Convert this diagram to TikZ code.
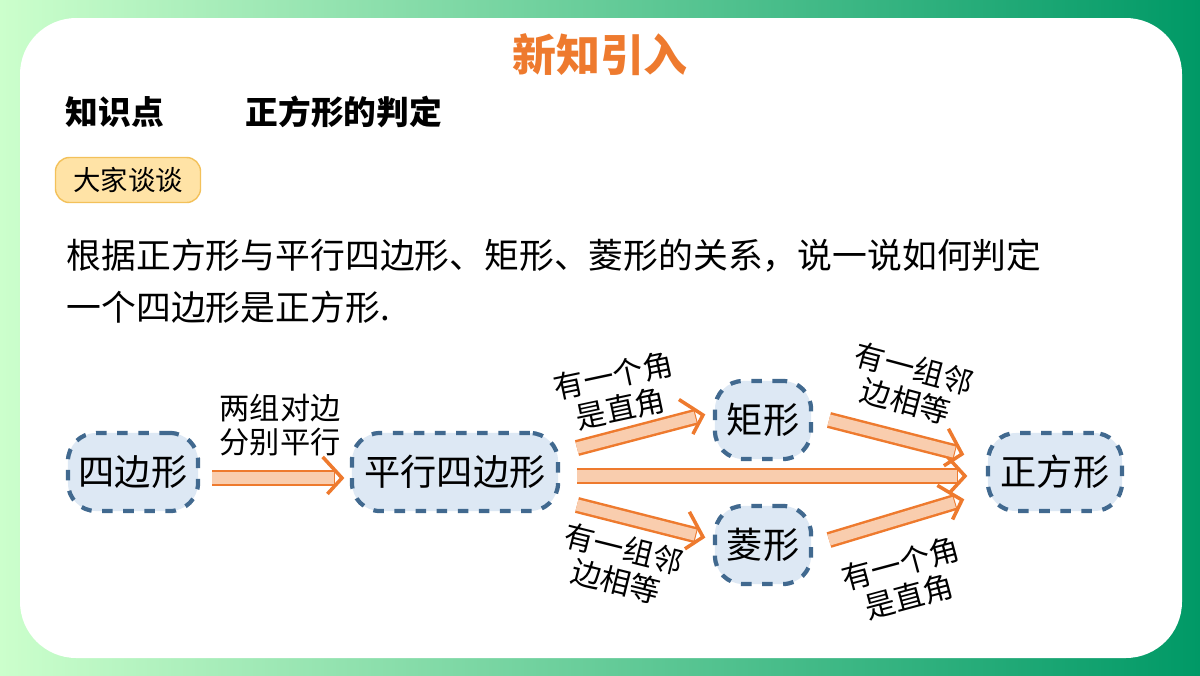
\documentclass[tikz,border=0pt]{standalone}
\usepackage{fontspec}
\setmainfont{Noto Sans CJK SC}
\usetikzlibrary{decorations.markings}
\definecolor{boxFill}{HTML}{DDE8F4}
\definecolor{boxLine}{HTML}{41698F}
\definecolor{arrLine}{HTML}{EE7A2E}
\definecolor{arrFill}{HTML}{F9CDAE}
\definecolor{tagFill}{HTML}{FFE3A6}
\definecolor{tagLine}{HTML}{F3C15A}
\begin{document}
\begin{tikzpicture}[
  x=0.01cm, y=-0.01cm,
  every node/.style={align=center,inner sep=0pt},
  figBox/.style={draw=boxLine,dashed,line width=1.2pt,fill=boxFill,rounded corners=8pt,
    minimum height=0.78cm,font=\fontsize{10.3}{11}\selectfont},
  cond/.style={font=\fontsize{8.6}{9.6}\selectfont},
  blockArrow/.style={draw=arrLine,line width=4.6pt,shorten >=2pt,
    postaction={draw=arrFill,line width=3.2pt,shorten >=2.3pt},
    postaction={decorate,decoration={markings,mark=at position 1 with
      {\draw[arrLine,line width=1pt,line join=miter] (-5.5pt,6pt) -- (0,0) -- (-5.5pt,-6pt);}}}}]
  % frame
  \shade[left color=green!20, right color=teal!80!green] (0,0) rectangle (1200,675);
  \fill[white,rounded corners=16pt] (20,18) rectangle (1182,658);
  \useasboundingbox (0,0) rectangle (1200,675);

  % heading
  \node[text=arrLine,font=\fontsize{12.5}{13}\selectfont\bfseries] (title) at (600,55) {新知引入};
  \node[font=\fontsize{9.3}{10}\selectfont\bfseries,anchor=west] (point) at (65,112) {知识点};
  \node[font=\fontsize{9.3}{10}\selectfont\bfseries,anchor=west] (topic) at (245,112) {正方形的判定};
  \node[draw=tagLine,fill=tagFill,rounded corners=4pt,minimum width=1.45cm,minimum height=0.45cm,
    font=\fontsize{7.8}{9}\selectfont] (talk) at (128,180) {大家谈谈};
  \node[anchor=north west,align=left,font=\fontsize{9.9}{14.8}\selectfont] (question) at (66,238)
    {根据正方形与平行四边形、矩形、菱形的关系，说一说如何判定\\一个四边形是正方形.};

  % shapes
  \node[figBox,minimum width=1.30cm] (quad) at (133,472) {四边形};
  \node[figBox,minimum width=2.06cm] (para) at (455,472) {平行四边形};
  \node[figBox,minimum width=0.96cm] (rect) at (763,420) {矩形};
  \node[figBox,minimum width=0.96cm] (rhom) at (763,545) {菱形};
  \node[figBox,minimum width=1.34cm] (squa) at (1055,472) {正方形};

  % arrow ends
  \coordinate (qOut) at (212,478);  \coordinate (pIn) at (342,478);
  \coordinate (pUp) at (577,448);   \coordinate (rIn) at (703,415);
  \coordinate (pMid) at (577,476);  \coordinate (sMid) at (965,476);
  \coordinate (pDown) at (577,505); \coordinate (bIn) at (703,537);
  \coordinate (rOut) at (829,420);  \coordinate (sUp) at (962,454);
  \coordinate (bOut) at (829,540);  \coordinate (sDown) at (962,500);

  % connectors
  \draw[blockArrow] (qOut) -- (pIn);
  \draw[blockArrow] (pUp) -- (rIn);
  \draw[blockArrow] (pMid) -- (sMid);
  \draw[blockArrow] (pDown) -- (bIn);
  \draw[blockArrow] (rOut) -- (sUp);
  \draw[blockArrow] (bOut) -- (sDown);

  % conditions
  \node[cond] (c1) at (280,425) {两组对边\\分别平行};
  \node[cond,rotate=12] (c2) at (617,392) {有一个角\\是直角};
  \node[cond,rotate=-14] (c3) at (620,565) {有一组邻\\边相等};
  \node[cond,rotate=-15] (c4) at (910,385) {有一组邻\\边相等};
  \node[cond,rotate=15] (c5) at (905,580) {有一个角\\是直角};
\end{tikzpicture}
\end{document}
